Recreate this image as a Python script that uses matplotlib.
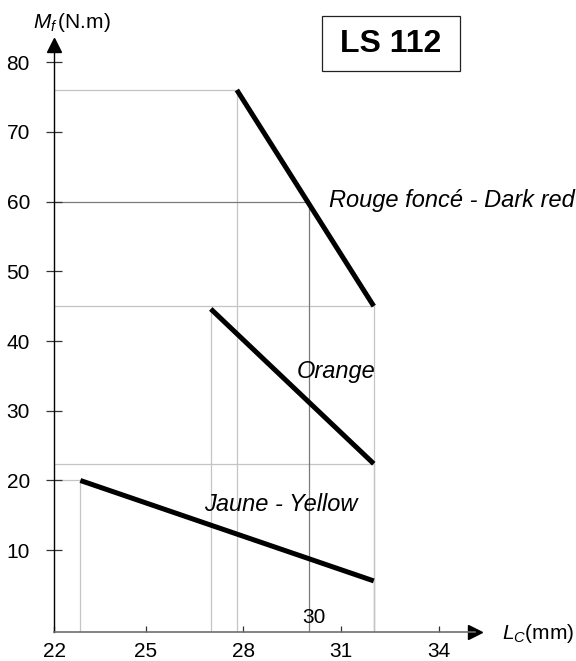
import matplotlib
matplotlib.use('Agg')
import matplotlib.pyplot as plt
from matplotlib.patches import Rectangle

# Chart data
x_ticks = [22, 25, 28, 31, 34]
y_ticks = [10, 20, 30, 40, 50, 60, 70, 80]

series_names = ["Rouge foncé - Dark red", "Orange", "Jaune - Yellow"]
lc_start = [27.8, 27.0, 23.0]
mf_start = [76.0, 44.6, 20.0]
lc_end = [32.0, 32.0, 32.0]
mf_end = [45.0, 22.4, 5.6]

# points that get a horizontal guide back to the Mf axis
guide_lc = [27.8, 32.0, 32.0, 23.0]
guide_mf = [76.0, 45.0, 22.4, 20.0]

# worked example read on the dark red curve
ex_lc = 30
ex_mf = 60

plt.rcParams['font.family'] = ['Liberation Sans', 'DejaVu Sans']
plt.rcParams['mathtext.fontset'] = 'custom'
plt.rcParams['mathtext.rm'] = 'Liberation Sans'
plt.rcParams['mathtext.it'] = 'Liberation Sans:italic'

W, H = 576, 661
fig = plt.figure(figsize=(W / 100, H / 100), dpi=100)

x_lo, x_hi = 22.2, 35.1
y_lo, y_hi = -1.77, 82.45
ax = fig.add_axes([54.3 / W, (H - 632.3) / H, 420.5 / W, 587.3 / H])
ax.set_xlim(x_lo, x_hi)
ax.set_ylim(y_lo, y_hi)

light = '#c4c4c4'
dark = '#7a7a7a'

# drop lines from the curve ends
for x, y in zip(lc_start + lc_end, mf_start + mf_end):
    ax.plot([x, x], [y_lo, y], color=light, lw=0.9, zorder=1)
for x, y in zip(guide_lc, guide_mf):
    ax.plot([x_lo, x], [y, y], color=light, lw=0.9, zorder=1)

# example reading
ax.plot([x_lo, ex_lc], [ex_mf, ex_mf], color=dark, lw=0.9, zorder=1)
ax.plot([ex_lc, ex_lc], [y_lo, ex_mf], color=dark, lw=0.9, zorder=1)
ax.annotate(str(ex_lc), (ex_lc, y_lo), xytext=(4, 10.5), textcoords='offset points',
            ha='center', va='center', fontsize=15)

# spring curves
for x0, y0, x1, y1 in zip(lc_start, mf_start, lc_end, mf_end):
    ax.plot([x0, x1], [y0, y1], color='black', lw=3.6, solid_capstyle='butt', zorder=3)

ax.text(30.62, 60.2, series_names[0], fontsize=17, style='italic', ha='left', va='center')
ax.text(32.05, 35.6, series_names[1], fontsize=17, style='italic', ha='right', va='center')
ax.text(26.78, 16.5, series_names[2], fontsize=17, style='italic', ha='left', va='center')

# axes styling
for s in ['top', 'right']:
    ax.spines[s].set_visible(False)
ax.spines['left'].set_color('black')
ax.spines['left'].set_linewidth(1.0)
ax.spines['bottom'].set_color('#6e6e6e')
ax.spines['bottom'].set_linewidth(1.2)

ax.set_xticks([max(t, x_lo) for t in x_ticks], labels=[str(t) for t in x_ticks])
ax.set_yticks(y_ticks, labels=[str(t) for t in y_ticks])
ax.tick_params(axis='x', direction='in', length=4.5, width=0.9, color='#333333',
               labelsize=15, pad=7)
ax.tick_params(axis='y', direction='inout', length=11, width=0.9, color='#333333',
               labelsize=15, pad=12)

# arrow heads
ax.plot(1, 0, '>', color='black', markersize=10, transform=ax.transAxes, clip_on=False)
ax.plot(0, 1, '^', color='black', markersize=10, transform=ax.transAxes, clip_on=False)

# axis titles
fig.text(33 / W, 1 - 28 / H, r'$M_f\,$(N.m)', fontsize=15, ha='left', va='baseline')
fig.text(502 / W, 1 - 639 / H, r'$L_C$(mm)', fontsize=15, ha='left', va='baseline')

# model box
fig.patches.append(Rectangle((322 / W, 1 - 71 / H), 138 / W, 55 / H, transform=fig.transFigure,
                             fill=False, edgecolor='#222222', lw=0.9))
fig.text(391 / W, 1 - 44 / H, 'LS 112', fontsize=23, fontweight='bold', ha='center', va='center')

fig.savefig('out.png', dpi=100)
